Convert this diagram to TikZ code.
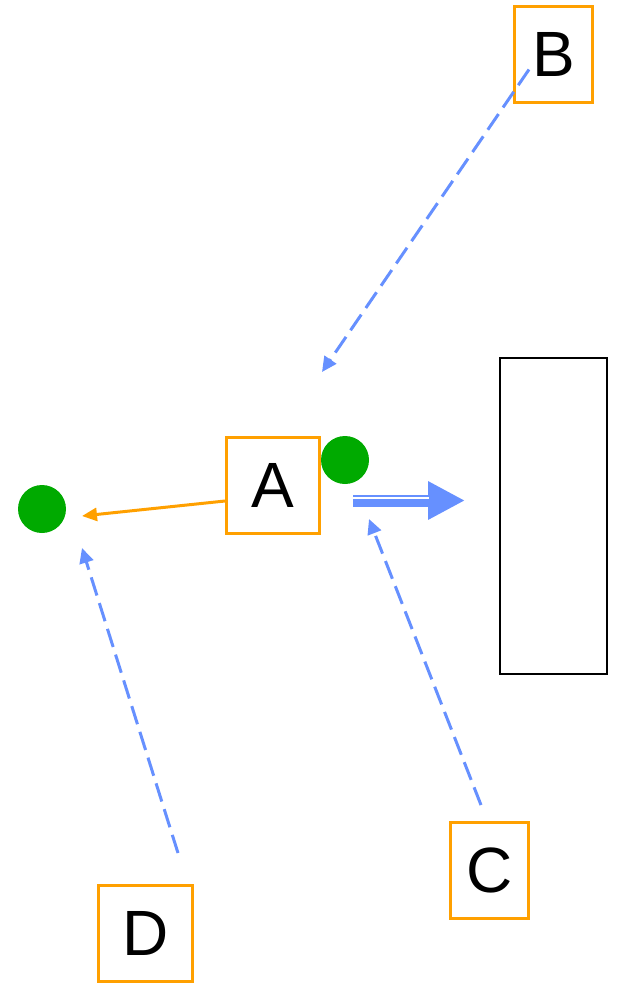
\documentclass[tikz,border=0pt]{standalone}
\usepackage{fontspec}
\setmainfont{Liberation Sans}
\usetikzlibrary{arrows.meta}

\definecolor{boxorange}{HTML}{FFA000}
\definecolor{linkblue}{HTML}{6690FF}
\definecolor{dotgreen}{HTML}{00AA00}

\begin{document}
\begin{tikzpicture}[
  x=1pt, y=-1pt,
  font=\fontsize{64}{70}\selectfont,
  box/.style={draw=boxorange, line width=3pt, inner sep=0pt,
              minimum height=96pt},
  dot/.style={circle, fill=dotgreen, inner sep=0pt, minimum size=48pt},
  dsh/.style={linkblue, line width=3pt, dash pattern=on 19pt off 8pt,
              -{Triangle[length=15pt,width=14pt]}},
  ar/.style={boxorange, line width=3pt, -{Triangle[length=15pt,width=13pt]}},
  fat/.style={linkblue, line width=12pt, -{Triangle[length=37pt,width=36pt]}},
]
  \useasboundingbox (0,0) rectangle (623,985);

  \node[box, minimum width=93pt] (A) at (273,485.5) {A};
  \node[box, minimum width=78pt] (B) at (553.5,54) {B};
  \node[box, minimum width=78pt] (C) at (489.5,870.5) {C};
  \node[box, minimum width=94pt] (D) at (145.5,933.5) {D};
  \node[draw, line width=2.5pt, minimum width=107pt, minimum height=316pt,
        inner sep=0pt] (wall) at (553.5,516) {};

  \node[dot] (dotL) at (42,509) {};
  \node[dot] (dotR) at (345,460) {};

  % free ends
  \coordinate (bHead) at (322,372);
  \coordinate (cTail) at (481,805);
  \coordinate (cHead) at (369,519);
  \coordinate (dTail) at (178,853);
  \coordinate (dHead) at (82,548);
  \coordinate (aHead) at (82,516);
  \coordinate (fatTail) at (353,500.5);
  \coordinate (fatHead) at (465,500.5);

  \draw[ar] ([yshift=-15.5pt]A.west) -- (aHead);
  \draw[dsh] ([xshift=16pt,yshift=34pt]B.south west) -- (bHead);
  \draw[dsh] (cTail) -- (cHead);
  \draw[dsh] (dTail) -- (dHead);

  \draw[fat] (fatTail) -- (fatHead);
  \draw[white, line width=1.6pt] ([yshift=2.5pt]fatTail) -- ([xshift=-36pt,yshift=2.5pt]fatHead);
\end{tikzpicture}
\end{document}
